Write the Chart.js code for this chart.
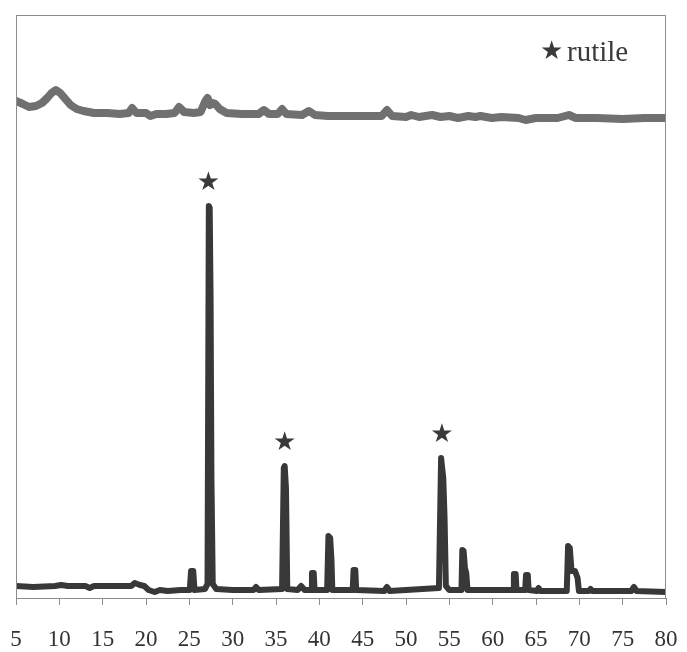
<!DOCTYPE html>
<html>
<head>
<meta charset="utf-8">
<script src="https://cdn.jsdelivr.net/npm/chart.js@4/dist/chart.umd.min.js"></script>
<style>
  html, body { margin: 0; padding: 0; background: #ffffff; }
  #wrap { width: 687px; height: 652px; position: relative; }
</style>
</head>
<body>
<div id="wrap"><canvas id="c" width="687" height="652"></canvas></div>
<script>
// 2-theta axis ticks
const xTicks = [5, 10, 15, 20, 25, 30, 35, 40, 45, 50, 55, 60, 65, 70, 75, 80];

// Upper pattern (poorly crystalline sample), arbitrary intensity
const topX = [5, 5.8, 6.5, 7.3, 8.0, 8.6, 9.1, 9.6, 10.1, 10.6, 11.3, 12.0, 12.8, 14.0, 15.5, 17.0, 18.0, 18.4, 18.9, 20.0, 20.5, 21.2, 22.3, 23.3, 23.8, 24.4, 25.5, 26.3, 26.8, 27.1, 27.4, 27.7, 28.0, 28.5, 29.3, 31.0, 33.0, 33.6, 34.2, 35.2, 35.7, 36.2, 38.0, 38.8, 39.5, 41.0, 43.0, 45.0, 47.2, 47.8, 48.4, 50.0, 50.6, 51.5, 53.0, 54.0, 55.0, 56.0, 57.2, 58.0, 58.6, 59.9, 61.0, 63.0, 63.8, 65.0, 67.5, 68.8, 69.6, 72.0, 75.0, 77.5, 80];
const topY = [497, 494, 491, 492, 495, 500, 505, 508, 505, 500, 493, 489, 487, 485, 485, 484, 485, 490, 485, 485, 482, 484, 484, 485, 491, 486, 485, 486, 496, 500, 493, 495, 494, 489, 485, 484, 484, 488, 484, 484, 489, 484, 483, 487, 483, 482, 482, 482, 482, 488, 482, 481, 483, 481, 483, 481, 482, 480, 482, 481, 482, 480, 481, 480, 478, 480, 480, 483, 480, 480, 479, 480, 480];

// Lower pattern (rutile-rich sample), arbitrary intensity
const bottomX = [5, 7.0, 9.5, 10.2, 11.0, 13.0, 13.5, 14.0, 16.0, 18.3, 18.7, 19.3, 19.8, 20.3, 21.0, 21.6, 22.5, 24.0, 25.05, 25.2, 25.45, 25.6, 26.8, 27.1, 27.25, 27.35, 27.45, 27.55, 27.7, 28.1, 30.0, 32.4, 32.7, 33.0, 35.7, 35.9, 36.0, 36.15, 36.3, 37.5, 37.9, 38.3, 39.05, 39.15, 39.35, 39.45, 40.9, 41.05, 41.25, 41.4, 41.5, 43.85, 43.95, 44.15, 44.25, 47.5, 47.8, 48.1, 53.8, 54.05, 54.15, 54.3, 54.45, 54.6, 55.0, 56.4, 56.5, 56.65, 56.8, 56.95, 57.1, 62.35, 62.45, 62.65, 62.75, 63.75, 63.85, 64.05, 64.15, 65.1, 65.3, 65.5, 68.55, 68.7, 68.9, 69.1, 69.5, 69.8, 69.95, 71.1, 71.3, 71.5, 76.0, 76.3, 76.6, 80];
const bottomY = [12, 11, 12, 13, 12, 12, 10, 12, 12, 12, 15, 13, 12, 8, 6, 8, 7, 8, 8, 27, 27, 8, 9, 14, 392, 390, 300, 120, 14, 9, 8, 8, 11, 8, 9, 130, 132, 110, 9, 8, 12, 8, 8, 25, 25, 8, 8, 62, 60, 38, 8, 8, 28, 28, 8, 7, 11, 7, 10, 140, 140, 120, 80, 12, 8, 8, 48, 47, 30, 25, 8, 8, 24, 24, 8, 8, 23, 23, 8, 7, 10, 7, 7, 52, 50, 27, 27, 20, 7, 7, 9, 7, 7, 11, 7, 6];

// Rutile reflection markers
const starX = [27.2, 36.0, 54.15];
const starY = [415, 155, 163];

const frameAndMarks = {
  id: 'frameAndMarks',
  afterDatasetsDraw(chart) {
    const ctx = chart.ctx;
    const a = chart.chartArea;
    const xs = chart.scales.x, ys = chart.scales.y;
    ctx.save();
    ctx.strokeStyle = '#8c8c8c';
    ctx.lineWidth = 1;
    ctx.strokeRect(a.left + 0.5, a.top + 0.5, a.right - a.left - 1, a.bottom - a.top);
    ctx.fillStyle = '#3a3a3a';
    ctx.font = '26px "DejaVu Sans"';
    ctx.textAlign = 'center';
    ctx.textBaseline = 'middle';
    for (let i = 0; i < starX.length; i++) {
      ctx.fillText('\u2605', xs.getPixelForValue(starX[i]), ys.getPixelForValue(starY[i]));
    }
    // legend
    ctx.textAlign = 'left';
    ctx.fillText('\u2605', 540, 52);
    ctx.font = '29px "Liberation Serif"';
    ctx.textBaseline = 'alphabetic';
    ctx.fillStyle = '#3a3a3a';
    ctx.fillText('rutile', 567, 61);
    ctx.restore();
  }
};

new Chart(document.getElementById('c'), {
  type: 'line',
  data: {
    datasets: [
      {
        label: 'top',
        data: topX.map((x, i) => ({ x: x, y: topY[i] })),
        borderColor: '#707070',
        borderWidth: 8,
        pointRadius: 0,
        tension: 0,
        borderJoinStyle: 'round',
        borderCapStyle: 'round'
      },
      {
        label: 'bottom',
        data: bottomX.map((x, i) => ({ x: x, y: bottomY[i] })),
        borderColor: '#383838',
        borderWidth: 6,
        pointRadius: 0,
        tension: 0,
        borderJoinStyle: 'round',
        borderCapStyle: 'round'
      }
    ]
  },
  options: {
    responsive: false,
    animation: false,
    events: [],
    layout: { padding: { left: 16, right: 21, top: 15, bottom: 0 } },
    plugins: { legend: { display: false }, tooltip: { enabled: false } },
    scales: {
      x: {
        type: 'linear',
        min: 5,
        max: 80,
        afterBuildTicks: (axis) => { axis.ticks = xTicks.map(v => ({ value: v })); },
        afterFit: (s) => { s.paddingLeft = 0; s.paddingRight = 0; s.height = 54; },
        ticks: {
          color: '#333333',
          font: { family: '"Liberation Serif"', size: 23 },
          padding: 21,
          maxRotation: 0,
          autoSkip: false
        },
        grid: { drawOnChartArea: false, drawTicks: true, tickLength: 7, color: '#8c8c8c' },
        border: { display: true, color: '#8c8c8c' }
      },
      y: {
        display: false,
        min: 0,
        max: 583
      }
    }
  },
  plugins: [frameAndMarks]
});
</script>
</body>
</html>
